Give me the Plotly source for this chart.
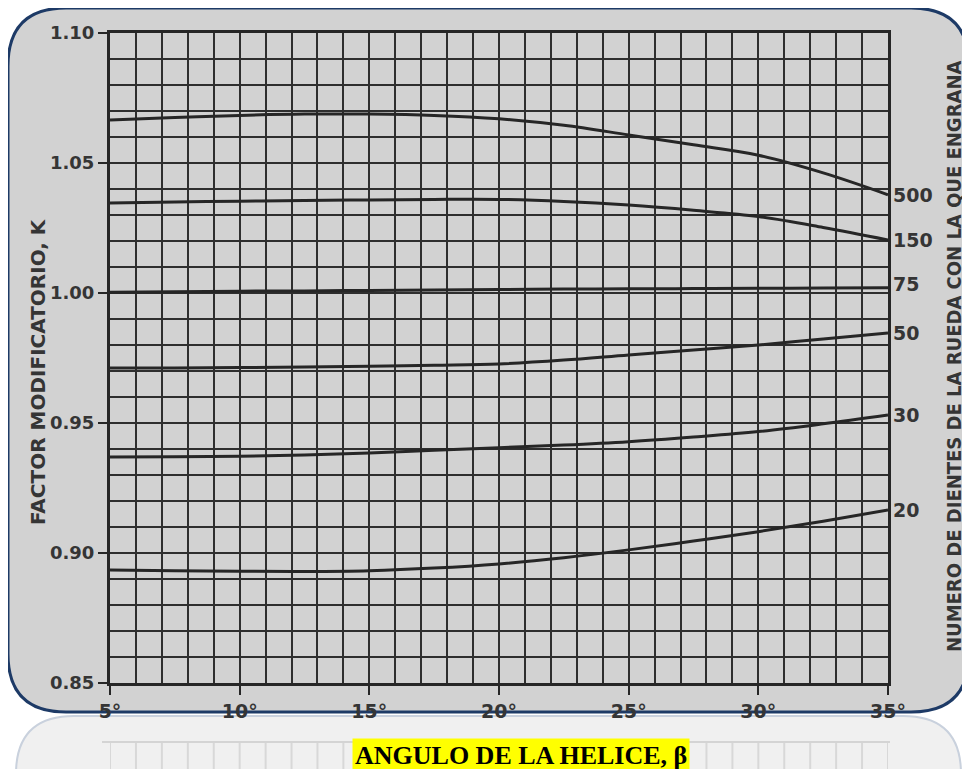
import plotly.graph_objects as go

# ---------------- data ----------------
angles = [5, 7.5, 10, 12.5, 15, 17.5, 20, 22.5, 25, 27.5, 30, 32.5, 35]

k_500 = [1.0665, 1.0675, 1.0683, 1.0688, 1.0688, 1.0683, 1.0670, 1.0645, 1.0608, 1.0570, 1.0530, 1.0462, 1.0378]
k_150 = [1.0346, 1.0350, 1.0353, 1.0356, 1.0358, 1.0360, 1.0360, 1.0352, 1.0338, 1.0318, 1.0294, 1.0252, 1.0204]
k_75 = [1.0003, 1.0005, 1.0007, 1.0008, 1.0010, 1.0012, 1.0013, 1.0015, 1.0016, 1.0017, 1.0018, 1.0019, 1.0020]
k_50 = [0.9712, 0.9712, 0.9713, 0.9715, 0.9718, 0.9722, 0.9727, 0.9742, 0.9762, 0.9781, 0.9800, 0.9823, 0.9846]
k_30 = [0.9369, 0.9370, 0.9372, 0.9377, 0.9385, 0.9395, 0.9405, 0.9415, 0.9428, 0.9446, 0.9467, 0.9497, 0.9531]
k_20 = [0.8935, 0.8932, 0.8930, 0.8929, 0.8932, 0.8942, 0.8958, 0.8982, 0.9012, 0.9046, 0.9082, 0.9122, 0.9165]

series_labels = ["500", "150", "75", "50", "30", "20"]
series_values = [k_500, k_150, k_75, k_50, k_30, k_20]

y_ticks = [0.85, 0.90, 0.95, 1.00, 1.05, 1.10]
y_tick_text = ["0.85", "0.90", "0.95", "1.00", "1.05", "1.10"]
x_ticks = [5, 10, 15, 20, 25, 30, 35]
x_tick_text = ["5°", "10°", "15°", "20°", "25°", "30°", "35°"]

x_title = "ANGULO DE LA HELICE, β"
y_title = "FACTOR MODIFICATORIO, K"
y2_title = "NUMERO DE DIENTES DE LA RUEDA CON LA QUE ENGRANA"

# ---------------- layout geometry ----------------
# the page body has an 8px margin, so the figure is drawn 8px in from the window corner
OFF = 8
WIN_W, WIN_H = 970, 769
W, H = WIN_W - OFF, WIN_H - OFF
# plot area in window pixels: x 110..888, y 33..683
ML, MR, MT, MB = 110 - OFF, WIN_W - 888, 33 - OFF, WIN_H - 683
PW, PH = W - ML - MR, H - MT - MB


def px(xw):
    return (xw - OFF - ML) / PW


def py(yw):
    return (H - MB - (yw - OFF)) / PH


INK = "#262626"
PAPER = "#d2d2d2"
FONT = "DejaVu Sans, Liberation Sans, sans-serif"
TXT = "#353535"

fig = go.Figure()
for lab, vals in zip(series_labels, series_values):
    fig.add_trace(go.Scatter(
        x=angles, y=vals, mode="lines", name=lab,
        line=dict(color=INK, width=3, shape="spline", smoothing=1.0),
        showlegend=False, hoverinfo="x+y+name"))

# curve end labels
annotations = []
label_nudge = {"75": 0.0015}
for lab, vals in zip(series_labels, series_values):
    annotations.append(dict(
        x=angles[-1], y=vals[-1] + label_nudge.get(lab, 0), xref="x", yref="y",
        text=lab, showarrow=False, xanchor="left", yanchor="middle", xshift=3,
        font=dict(family=FONT, size=19, color=TXT, weight="bold")))

# axis titles
annotations.append(dict(
    x=px(38), y=py(372), xref="paper", yref="paper", text=y_title,
    textangle=-90, showarrow=False, xanchor="center", yanchor="middle",
    font=dict(family=FONT, size=20, color=TXT, weight="bold")))
annotations.append(dict(
    x=px(954), y=py(357), xref="paper", yref="paper", text=y2_title,
    textangle=-90, showarrow=False, xanchor="center", yanchor="middle",
    font=dict(family="DejaVu Sans Condensed, DejaVu Sans, sans-serif", size=20,
              color=TXT, weight="bold")))
annotations.append(dict(
    x=px(521), y=py(755), xref="paper", yref="paper",
    text="<b>" + x_title + "</b>", showarrow=False, xanchor="center", yanchor="middle",
    bgcolor="#ffff00", borderpad=2,
    font=dict(family="Liberation Serif, Times New Roman, serif", size=26, color="#000000")))

# ---------------- frame shapes ----------------
L, T, R, B, RAD = 8, 8, 969, 712, 58
frame_path = (
    f"M {px(L)} {py(T + RAD)} "
    f"Q {px(L)} {py(T)} {px(L + RAD)} {py(T)} "
    f"L {px(R - RAD)} {py(T)} "
    f"Q {px(R)} {py(T)} {px(R)} {py(T + RAD)} "
    f"L {px(R)} {py(B - RAD)} "
    f"Q {px(R)} {py(B)} {px(R - RAD)} {py(B)} "
    f"L {px(L + RAD)} {py(B)} "
    f"Q {px(L)} {py(B)} {px(L)} {py(B - RAD)} Z"
)
shapes = []
# reflection (faded)
RT = 716
refl_path = (
    f"M {px(L + 8)} {py(WIN_H + 5)} "
    f"L {px(L + 8)} {py(RT + RAD)} "
    f"Q {px(L + 8)} {py(RT)} {px(L + 8 + RAD)} {py(RT)} "
    f"L {px(R - 8 - RAD)} {py(RT)} "
    f"Q {px(R - 8)} {py(RT)} {px(R - 8)} {py(RT + RAD)} "
    f"L {px(R - 8)} {py(WIN_H + 5)} Z"
)
shapes.append(dict(type="path", path=refl_path, xref="paper", yref="paper",
                   fillcolor="#f0f0f0", line=dict(color="#c9d1dd", width=2), layer="below"))
for xv in range(5, 36):
    shapes.append(dict(type="line", xref="x", yref="paper", x0=xv, x1=xv,
                       y0=py(742), y1=py(WIN_H + 2), line=dict(color="#d8d8d8", width=2), layer="below"))
shapes.append(dict(type="line", xref="paper", yref="paper", x0=px(102), x1=px(890),
                   y0=py(742), y1=py(742), line=dict(color="#d4d4d4", width=2), layer="below"))
# main frame
shapes.append(dict(type="path", path=frame_path, xref="paper", yref="paper",
                   fillcolor=PAPER, line=dict(color="#1d3a66", width=3), layer="below"))

fig.update_layout(
    width=W, height=H, autosize=False,
    margin=dict(l=ML, r=MR, t=MT, b=MB, pad=0),
    paper_bgcolor="#ffffff", plot_bgcolor="rgba(0,0,0,0)",
    shapes=shapes, annotations=annotations,
    xaxis=dict(range=[5, 35], tickvals=x_ticks, ticktext=x_tick_text,
               showgrid=True, gridcolor="#2e2e2e", gridwidth=2,
               minor=dict(dtick=1, tick0=5, showgrid=True, gridcolor="#2e2e2e", gridwidth=2),
               ticks="outside", ticklen=9, tickwidth=2, tickcolor=INK,
               showline=True, linecolor=INK, linewidth=3, mirror=True,
               zeroline=False,
               tickfont=dict(family=FONT, size=19, color=TXT, weight="bold")),
    yaxis=dict(range=[0.85, 1.10], tickvals=y_ticks, ticktext=y_tick_text,
               showgrid=True, gridcolor="#2e2e2e", gridwidth=2,
               minor=dict(dtick=0.01, tick0=0.85, showgrid=True, gridcolor="#2e2e2e", gridwidth=2),
               ticks="outside", ticklen=9, tickwidth=2, tickcolor=INK,
               showline=True, linecolor=INK, linewidth=3, mirror=True,
               zeroline=False,
               tickfont=dict(family=FONT, size=18, color=TXT, weight="bold")),
)

fig.write_html("out.html")
